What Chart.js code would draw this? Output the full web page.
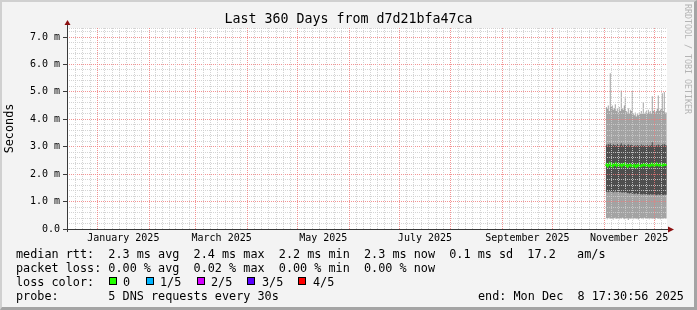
<!DOCTYPE html>
<html>
<head>
<meta charset="utf-8">
<script src="https://cdn.jsdelivr.net/npm/chart.js@4.4.1/dist/chart.umd.min.js"></script>
<style>
  html, body { margin: 0; padding: 0; }
  body { width: 697px; height: 310px; position: relative; overflow: hidden; background: #f3f3f3;
         font-family: "DejaVu Sans Mono", monospace; color: #000; }
  #frame { position: absolute; left: 0; top: 0; width: 697px; height: 310px; box-sizing: border-box;
           border-style: solid; border-width: 2px 3px 3px 2px; border-color: #d0d0d0 #a4a4a4 #a4a4a4 #d0d0d0; }
  #graph { position: absolute; left: 0; top: 0; }
  .title { position: absolute; top: 11px; left: 0; width: 697px; text-align: center; font-size: 13.3px; line-height: 16px; }
  .credit { position: absolute; left: 683px; top: 4px; writing-mode: vertical-rl; font-size: 8.3px; line-height: 10px; color: #b4b4b4; }
  .leg { position: absolute; font-size: 11.8px; line-height: 14px; white-space: pre; }
  .box { position: absolute; top: 277px; width: 6px; height: 6px; border: 1px solid #000; }
</style>
</head>
<body>
<div id="frame"></div>
<canvas id="graph" width="697" height="310"></canvas>
<div class="title">Last 360 Days from d7d21bfa47ca</div>
<div class="credit">RRDTOOL / TOBI OETIKER</div>

<div class="leg" style="left:16px; top:247px">median rtt:  2.3 ms avg  2.4 ms max  2.2 ms min  2.3 ms now  0.1 ms sd  17.2   am/s</div>
<div class="leg" style="left:16px; top:261px">packet loss: 0.00 % avg  0.02 % max  0.00 % min  0.00 % now</div>
<div class="leg" style="left:16px; top:275px">loss color:</div>
<div id="lossLegend"></div>
<div class="leg" style="left:16px; top:289px">probe:       5 DNS requests every 30s</div>
<div class="leg" style="left:478px; top:289px">end: Mon Dec  8 17:30:56 2025</div>

<script>
// time range of the graph (360 days ending at the "end:" stamp)
const endTime = Date.UTC(2025, 11, 8, 17, 30, 56);
const spanDays = 360;
const startTime = endTime - spanDays * 86400000;

// samples: one every 14.4 h starting Nov 2 2025
const sampleStart = Date.UTC(2025, 10, 2, 0, 0, 0);
const sampleStepHours = 14.4;

// smoke, values in ms
const lightTop = [4.35,4.45,4.40,4.50,4.30,5.68,4.45,4.50,4.35,4.40,
                  4.55,4.30,4.40,4.25,4.45,4.30,5.05,4.40,4.35,4.50,
                  4.81,4.30,4.25,4.40,4.20,4.35,4.30,5.03,4.20,4.15,
                  4.25,4.10,4.20,4.15,4.25,4.20,4.30,4.20,4.63,4.20,
                  4.25,4.30,4.20,4.35,4.25,4.30,4.20,4.84,4.30,4.35,
                  4.25,4.30,4.40,4.87,4.30,4.35,4.40,4.95,4.30,5.00,
                  4.25,4.25];
const darkTop = [3.05,3.08,3.04,3.10,3.05,3.12,3.06,3.04,3.09,3.05,
                 3.06,3.03,3.10,3.05,3.04,3.07,3.13,3.05,3.04,3.08,
                 3.06,3.03,3.05,3.09,3.04,3.06,3.05,3.10,3.03,3.04,
                 3.05,3.02,3.06,3.04,3.05,3.03,3.08,3.04,3.06,3.03,
                 3.05,3.04,3.07,3.03,3.05,3.04,3.06,3.16,3.04,3.05,
                 3.03,3.06,3.04,3.08,3.05,3.03,3.06,3.09,3.04,3.10,
                 3.05,3.05];
const medianRtt = [2.30,2.36,2.28,2.34,2.40,2.31,2.37,2.29,2.35,2.33,
                   2.39,2.30,2.34,2.37,2.31,2.35,2.29,2.36,2.33,2.38,
                   2.30,2.34,2.27,2.32,2.36,2.30,2.33,2.28,2.35,2.31,
                   2.26,2.33,2.29,2.35,2.30,2.28,2.34,2.31,2.37,2.33,
                   2.30,2.36,2.32,2.29,2.35,2.31,2.38,2.33,2.30,2.36,
                   2.32,2.39,2.34,2.31,2.37,2.33,2.30,2.35,2.32,2.36,
                   2.33,2.33];
const darkBottom = [1.38,1.35,1.37,1.34,1.36,1.39,1.35,1.37,1.33,1.36,
                    1.38,1.34,1.35,1.37,1.33,1.36,1.34,1.32,1.35,1.33,
                    1.31,1.34,1.30,1.32,1.29,1.31,1.33,1.28,1.30,1.27,
                    1.29,1.31,1.27,1.28,1.30,1.26,1.28,1.25,1.29,1.27,
                    1.26,1.28,1.25,1.27,1.24,1.28,1.26,1.25,1.27,1.24,
                    1.26,1.23,1.25,1.27,1.24,1.26,1.23,1.25,1.24,1.26,
                    1.25,1.25];
const lightBottom = [0.38,0.40,0.36,0.39,0.41,0.37,0.40,0.38,0.35,0.39,
                     0.41,0.37,0.38,0.40,0.36,0.39,0.37,0.41,0.38,0.36,
                     0.40,0.38,0.39,0.33,0.40,0.37,0.39,0.41,0.36,0.38,
                     0.40,0.37,0.39,0.35,0.38,0.40,0.37,0.39,0.36,0.41,
                     0.38,0.40,0.37,0.39,0.36,0.38,0.40,0.37,0.39,0.38,
                     0.35,0.40,0.38,0.37,0.39,0.36,0.40,0.38,0.37,0.39,
                     0.38,0.38];

// axes
const yMax = 7.33;
const yMajorTicks = [0, 1, 2, 3, 4, 5, 6, 7];
const yTickLabels = ['0.0', '1.0 m', '2.0 m', '3.0 m', '4.0 m', '5.0 m', '6.0 m', '7.0 m'];
const labelMonths = [0, 2, 4, 6, 8, 10];
const monthLabels = ['January 2025', 'March 2025', 'May 2025', 'July 2025', 'September 2025', 'November 2025'];

const lossColors = ['#22ff00', '#00b4ff', '#d400ff', '#5a00ff', '#ff0000'];
const lossNames = ['0', '1/5', '2/5', '3/5', '4/5'];
const lossBoxX = [109, 146, 197, 247, 298];
const lossTextX = [123, 160, 211, 262, 313];

const lossDiv = document.getElementById('lossLegend');
lossColors.forEach((c, i) => {
  const b = document.createElement('div');
  b.className = 'box';
  b.style.left = lossBoxX[i] + 'px';
  b.style.background = c;
  lossDiv.appendChild(b);
  const t = document.createElement('div');
  t.className = 'leg';
  t.style.left = lossTextX[i] + 'px';
  t.style.top = '275px';
  t.textContent = lossNames[i];
  lossDiv.appendChild(t);
});

const pts = arr => arr.map((v, i) => ({ x: sampleStart + i * sampleStepHours * 3600000, y: v }));

const RED = 'rgba(240,120,120,0.8)';
const GRAY = 'rgba(205,205,205,0.85)';

// x ticks: month starts (major), ~7 minor per month, mid-month label slots
function xTicks() {
  const out = [];
  for (let m = -1; m <= 11; m++) {
    const a = Date.UTC(2025, m, 1), b = Date.UTC(2025, m + 1, 1);
    if (a >= startTime && a <= endTime) out.push({ value: a, major: true });
    for (let k = 1; k < 7; k++) {
      const v = a + (b - a) * k / 7;
      if (v > startTime && v < endTime) out.push({ value: v, minor: true });
    }
  }
  labelMonths.forEach((m, i) => {
    const a = Date.UTC(2025, m, 1), b = Date.UTC(2025, m + 1, 1);
    out.push({ value: (a + b) / 2, lab: monthLabels[i] });
  });
  out.sort((p, q) => p.value - q.value);
  return out;
}

function yTicks() {
  const out = [];
  for (let i = 0; i <= 36; i++) out.push({ value: Math.round(i * 2) / 10, major: i % 5 === 0 });
  out.push({ value: yMax, major: false });
  return out;
}

const frameBits = {
  id: 'frameBits',
  beforeDraw(chart) {
    const { ctx, chartArea: a } = chart;
    ctx.save();
    ctx.fillStyle = '#ffffff';
    ctx.fillRect(a.left, a.top, a.right - a.left, a.bottom - a.top);
    ctx.restore();
  },
  afterDraw(chart) {
    const { ctx, chartArea: a } = chart;
    ctx.save();
    ctx.strokeStyle = '#3a3a3a';
    ctx.lineWidth = 1;
    ctx.beginPath();
    ctx.moveTo(a.left + 0.5, a.bottom + 3);
    ctx.lineTo(a.left + 0.5, a.top - 4);
    ctx.moveTo(a.left - 4, a.bottom + 0.5);
    ctx.lineTo(a.right + 2, a.bottom + 0.5);
    ctx.stroke();
    ctx.fillStyle = '#8c1010';
    ctx.beginPath();
    ctx.moveTo(a.left + 0.5, a.top - 8);
    ctx.lineTo(a.left - 2.5, a.top - 3);
    ctx.lineTo(a.left + 3.5, a.top - 3);
    ctx.fill();
    ctx.beginPath();
    ctx.moveTo(a.right + 7, a.bottom + 0.5);
    ctx.lineTo(a.right + 1, a.bottom - 2.5);
    ctx.lineTo(a.right + 1, a.bottom + 3.5);
    ctx.fill();
    ctx.restore();
  }
};

new Chart(document.getElementById('graph'), {
  type: 'line',
  data: {
    datasets: [
      { data: pts(medianRtt), borderColor: '#22f000', borderWidth: 2, pointRadius: 0, fill: false },
      { data: pts(darkTop), borderWidth: 0, pointRadius: 0, stepped: 'after', fill: '+1', backgroundColor: '#4e4e4e' },
      { data: pts(darkBottom), borderWidth: 0, pointRadius: 0, stepped: 'after', fill: false },
      { data: pts(lightTop), borderWidth: 0, pointRadius: 0, stepped: 'after', fill: '+1', backgroundColor: '#a3a3a3' },
      { data: pts(lightBottom), borderWidth: 0, pointRadius: 0, stepped: 'after', fill: false }
    ]
  },
  options: {
    responsive: false,
    animation: false,
    devicePixelRatio: 1,
    layout: { padding: { left: 0, top: 28, right: 30, bottom: 0 } },
    plugins: { legend: { display: false }, tooltip: { enabled: false } },
    scales: {
      x: {
        type: 'linear',
        min: startTime,
        max: endTime,
        afterBuildTicks: s => { s.ticks = xTicks(); },
        afterFit: s => { s.height = 81; },
        border: { display: false, dash: [1, 1] },
        grid: {
          z: 2,
          color: c => c.tick && c.tick.lab ? 'transparent' : (c.tick && c.tick.major ? RED : GRAY),
          tickLength: 3,
          tickColor: 'transparent'
        },
        ticks: {
          autoSkip: false,
          maxRotation: 0,
          padding: 0,
          color: '#000',
          font: { family: 'DejaVu Sans Mono', size: 10 },
          callback: (v, i, t) => t[i].lab || ''
        }
      },
      y: {
        min: 0,
        max: yMax,
        afterBuildTicks: s => { s.ticks = yTicks(); },
        afterFit: s => { s.width = 67; },
        border: { display: false, dash: [1, 1] },
        grid: {
          z: 1,
          color: c => c.tick && c.tick.major ? RED : GRAY,
          tickLength: 4,
          tickColor: c => c.tick && c.tick.major && c.tick.value > 0 ? '#3a3a3a' : 'transparent'
        },
        title: {
          display: true,
          text: 'Seconds',
          color: '#000',
          padding: { top: 3, bottom: 0 },
          font: { family: 'DejaVu Sans Mono', size: 11.8 }
        },
        ticks: {
          autoSkip: false,
          padding: 3,
          color: '#000',
          font: { family: 'DejaVu Sans Mono', size: 10 },
          callback: v => {
            const k = yMajorTicks.findIndex(m => Math.abs(m - v) < 1e-6);
            return k >= 0 ? yTickLabels[k] : '';
          }
        }
      }
    }
  },
  plugins: [frameBits]
});
</script>
</body>
</html>
